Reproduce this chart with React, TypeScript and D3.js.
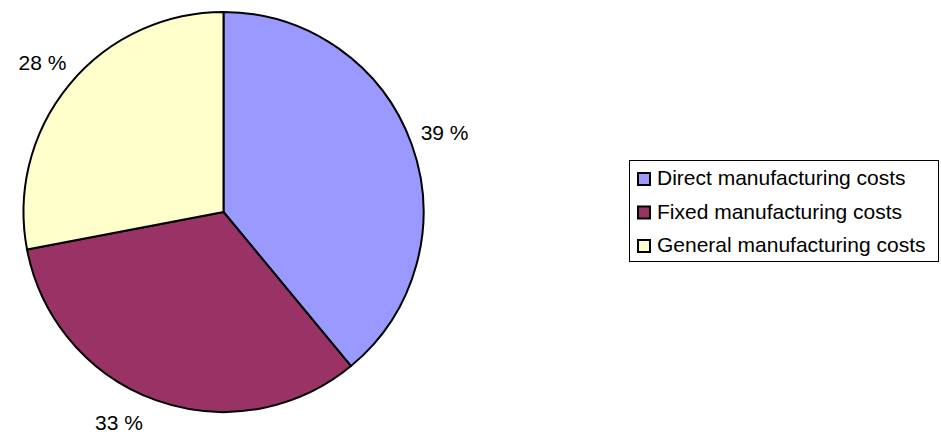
import React from "react";
import * as d3 from "d3";

const categories = ["Direct manufacturing costs", "Fixed manufacturing costs", "General manufacturing costs"];
const values = [39, 33, 28];
const labels = ["39 %", "33 %", "28 %"];
const colors = ["#9999FF", "#993366", "#FFFFCC"];

const W = 941;
const H = 439;
const FONT = "'Liberation Sans', Arial, sans-serif";

export default function App() {
  const cx = 223.5;
  const cy = 212;
  const r = 200;
  const labelR = 235;
  const fontSize = 21;

  const pie = d3.pie<number>().sort(null).value((d) => d);
  const arcs = pie(values);
  const arc = d3.arc<d3.PieArcDatum<number>>().innerRadius(0).outerRadius(r);

  const maxCenterY = 422.5 - cy;

  const labelPos = arcs.map((a) => {
    let ang = (a.startAngle + a.endAngle) / 2;
    let x = Math.sin(ang) * labelR;
    let y = -Math.cos(ang) * labelR;
    if (y > maxCenterY) {
      y = maxCenterY;
      const dx = Math.sqrt(labelR * labelR - y * y);
      x = x < 0 ? -dx : dx;
    }
    return [cx + x, cy + y];
  });

  const legX = 629;
  const legY = 160;
  const legW = 310;
  const legH = 101;
  const rowY = d3.scaleLinear().domain([0, categories.length - 1]).range([185, 252]);

  return (
    <svg
      width={W}
      height={H}
      style={{ position: "absolute", left: 0, top: 0, display: "block", background: "#fff" }}
      fontFamily={FONT}
    >
      <g transform={`translate(${cx},${cy})`}>
        {arcs.map((a, i) => (
          <path key={i} d={arc(a) || ""} fill={colors[i]} stroke="#000" strokeWidth={2} strokeLinejoin="round" />
        ))}
      </g>
      {labelPos.map((p, i) => (
        <text key={i} x={p[0]} y={p[1]} dy="0.35em" textAnchor="middle" fontSize={fontSize} fill="#000">
          {labels[i]}
        </text>
      ))}
      <rect x={legX + 0.5} y={legY + 0.5} width={legW - 1} height={legH} fill="#fff" stroke="#000" strokeWidth={1} />
      {categories.map((c, i) => (
        <g key={c}>
          <rect x={638} y={rowY(i) - 12} width={12} height={12} fill={colors[i]} stroke="#000" strokeWidth={2} />
          <text x={657} y={rowY(i)} fontSize={fontSize} fill="#000">
            {c}
          </text>
        </g>
      ))}
    </svg>
  );
}
